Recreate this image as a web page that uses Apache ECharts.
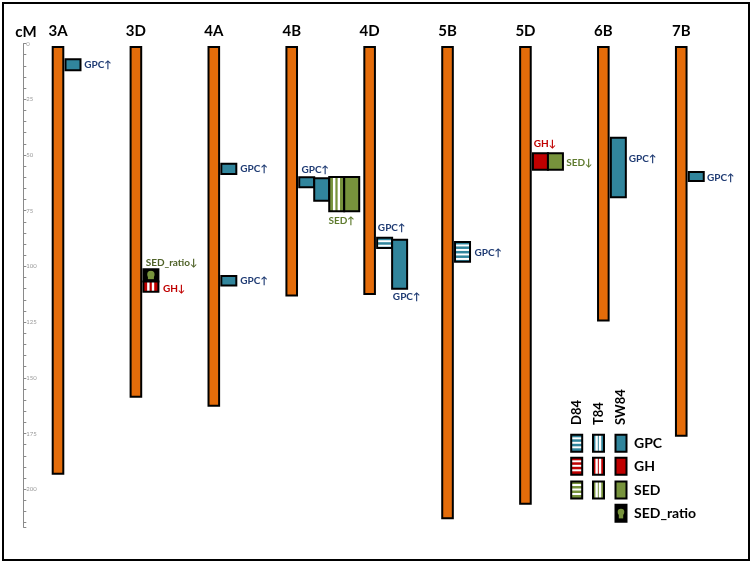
<!DOCTYPE html>
<html>
<head>
<meta charset="utf-8">
<script src="https://cdn.jsdelivr.net/npm/echarts@6/dist/echarts.min.js"></script>
<style>
  html, body { margin: 0; padding: 0; background: #fff; }
  #chart { width: 753px; height: 566px; }
</style>
</head>
<body>
<div id="chart"></div>
<script>
  // chromosomes and their lengths (cM)
  const chromosomes = ['3A', '3D', '4A', '4B', '4D', '5B', '5D', '6B', '7B'];
  const chrStart = [1.5, 1.5, 1.5, 1.5, 1.5, 1.5, 1.5, 1.5, 1.5];
  const chrEnd = [193, 158.5, 162.5, 113, 112.4, 213, 206.5, 124.2, 176];

  // QTL: [chromosome, lane, from cM, to cM, trait, population]
  const qtls = [
    ['3A', 0, 7, 12, 'GPC', 'SW84'],
    ['3D', 0, 101.3, 106.8, 'SED_ratio', 'SW84'],
    ['3D', 0, 106.8, 111.3, 'GH', 'T84'],
    ['4A', 0, 53.9, 58.5, 'GPC', 'SW84'],
    ['4A', 0, 104.3, 108.6, 'GPC', 'SW84'],
    ['4B', 0, 60, 64.5, 'GPC', 'SW84'],
    ['4B', 1, 60.4, 70.5, 'GPC', 'SW84'],
    ['4B', 2, 59.9, 75.2, 'SED', 'T84'],
    ['4B', 3, 59.9, 75.2, 'SED', 'SW84'],
    ['4D', 0, 87.1, 91.7, 'GPC', 'D84'],
    ['4D', 1, 88, 110, 'GPC', 'SW84'],
    ['5B', 0, 89, 97.9, 'GPC', 'D84'],
    ['5D', 0, 49.2, 56.6, 'GH', 'SW84'],
    ['5D', 1, 49.2, 56.6, 'SED', 'SW84'],
    ['6B', 0, 42.2, 69, 'GPC', 'SW84'],
    ['7B', 0, 57.6, 61.7, 'GPC', 'SW84']
  ];

  // QTL labels: [chromosome, lane offset, cM, text, trait]
  const qtlLabels = [
    ['3A', 1.25, 9.5, 'GPC↑', 'GPC'],
    ['3D', 0.15, 98.3, 'SED_ratio↓', 'SED_ratio'],
    ['3D', 1.3, 109.8, 'GH↓', 'GH'],
    ['4A', 1.27, 56.2, 'GPC↑', 'GPC'],
    ['4A', 1.27, 106.5, 'GPC↑', 'GPC'],
    ['4B', 0.15, 56.7, 'GPC↑', 'GPC'],
    ['4B', 1.95, 79.6, 'SED↑', 'SED'],
    ['4D', 0.05, 82.7, 'GPC↑', 'GPC'],
    ['4D', 1.05, 113.7, 'GPC↑', 'GPC'],
    ['5B', 1.3, 94, 'GPC↑', 'GPC'],
    ['5D', 0.05, 45, 'GH↓', 'GH'],
    ['5D', 2.22, 53.3, 'SED↓', 'SED'],
    ['6B', 1.2, 51.8, 'GPC↑', 'GPC'],
    ['7B', 1.22, 60.3, 'GPC↑', 'GPC']
  ];

  const legendPops = ['D84', 'T84', 'SW84'];
  const legendTraits = ['GPC', 'GH', 'SED', 'SED_ratio'];

  const FILL = { GPC: '#31859C', GH: '#C00000', SED: '#77933C', SED_ratio: '#77933C' };
  const TEXT = { GPC: '#1F3B73', GH: '#C00000', SED: '#5E7A2E', SED_ratio: '#4F6228' };
  const FONT = 'Lato, "Open Sans", "DejaVu Sans", sans-serif';
  const LANE = 15;

  // a QTL box with its pattern (D84 = horizontal stripes, T84 = vertical, SW84 = solid)
  function boxShapes(x, y, w, h, trait, pop) {
    const kids = [];
    const bg = trait === 'SED_ratio' ? '#000' : FILL[trait];
    kids.push({ type: 'rect', shape: { x: x, y: y, width: w, height: h }, style: { fill: bg } });
    if (trait === 'SED_ratio') {
      kids.push({ type: 'circle', shape: { cx: x + w * 0.5, cy: y + h * 0.42, r: Math.min(w, h) * 0.3 }, style: { fill: FILL.SED } });
      kids.push({ type: 'rect', shape: { x: x + w * 0.3, y: y + h * 0.55, width: w * 0.4, height: h * 0.25 }, style: { fill: FILL.SED } });
    } else if (pop === 'D84') {
      for (let yy = y + 2.5; yy + 2 <= y + h - 1; yy += 4.5) {
        kids.push({ type: 'rect', shape: { x: x, y: yy, width: w, height: 2 }, style: { fill: '#fff' } });
      }
    } else if (pop === 'T84') {
      [0.33, 0.64].forEach(function (f) {
        kids.push({ type: 'rect', shape: { x: x + w * f - 1.2, y: y, width: 2.4, height: h }, style: { fill: '#fff' } });
      });
    }
    kids.push({ type: 'rect', shape: { x: x, y: y, width: w, height: h }, style: { fill: 'none', stroke: '#000', lineWidth: 2 } });
    return kids;
  }

  // legend drawn with graphic elements
  const colX = [576.7, 598.5, 621];
  const rowY = [443.3, 466.3, 490, 513.3];
  const legendGraphics = [];
  legendPops.forEach(function (p, c) {
    legendGraphics.push({
      type: 'text', x: colX[c], y: 425, rotation: Math.PI / 2,
      style: { text: p, fill: '#000', fontSize: 13, fontWeight: 'bold', fontFamily: FONT, align: 'left', verticalAlign: 'middle' }
    });
  });
  legendTraits.forEach(function (t, r) {
    legendPops.forEach(function (p, c) {
      if (t === 'SED_ratio' && p !== 'SW84') return;
      legendGraphics.push({ type: 'group', children: boxShapes(colX[c] - 5.5, rowY[r] - 8.5, 11, 17, t, p) });
    });
    legendGraphics.push({
      type: 'text', x: 634, y: rowY[r],
      style: { text: t, fill: '#000', fontSize: 14, fontWeight: 'bold', fontFamily: FONT, align: 'left', verticalAlign: 'middle' }
    });
  });

  const myChart = echarts.init(document.getElementById('chart'));
  const option = {
    animation: false,
    grid: { top: 43.6, height: 483.6, left: 23.3, right: 32.8 },
    xAxis: { type: 'value', min: -0.4454, max: 8.5, show: false },
    yAxis: {
      type: 'value', inverse: true, min: 0, max: 217, interval: 5,
      axisLine: { show: true, onZero: false, lineStyle: { color: '#8a8a8a', width: 1 } },
      axisTick: { show: true, inside: true, length: 3, lineStyle: { color: '#8a8a8a' } },
      axisLabel: {
        inside: true, margin: 3, fontSize: 6, color: '#999', fontFamily: FONT,
        formatter: function (v) { return v % 25 === 0 ? String(v) : ''; }
      },
      splitLine: { show: false }
    },
    graphic: [
      { type: 'rect', shape: { x: 3, y: 3, width: 746, height: 557 }, style: { fill: 'none', stroke: '#000', lineWidth: 2 } },
      { type: 'text', x: 26, y: 32, style: { text: 'cM', fill: '#000', fontSize: 15, fontWeight: 'bold', fontFamily: FONT, align: 'center', verticalAlign: 'middle' } }
    ].concat(legendGraphics),
    series: [
      {
        type: 'custom',
        data: chromosomes.map(function (c, i) { return [i, chrStart[i], chrEnd[i]]; }),
        renderItem: function (params, api) {
          const top = api.coord([api.value(0), api.value(1)]);
          const bot = api.coord([api.value(0), api.value(2)]);
          const zero = api.coord([api.value(0), 0]);
          return {
            type: 'group',
            children: [
              { type: 'rect', shape: { x: top[0] - 5.3, y: top[1], width: 10.6, height: bot[1] - top[1] }, style: { fill: '#E46C0A', stroke: '#000', lineWidth: 2 } },
              { type: 'text', x: top[0], y: zero[1] - 12, style: { text: chromosomes[params.dataIndex], fill: '#000', fontSize: 15, fontWeight: 'bold', fontFamily: FONT, align: 'center', verticalAlign: 'middle' } }
            ]
          };
        }
      },
      {
        type: 'custom',
        data: qtls.map(function (q) { return [chromosomes.indexOf(q[0]), q[1], q[2], q[3]]; }),
        renderItem: function (params, api) {
          const q = qtls[params.dataIndex];
          const a = api.coord([api.value(0), api.value(2)]);
          const b = api.coord([api.value(0), api.value(3)]);
          const x = a[0] + 7.5 + api.value(1) * LANE;
          return { type: 'group', children: boxShapes(x, a[1], LANE, b[1] - a[1], q[4], q[5]) };
        }
      },
      {
        type: 'custom',
        data: qtlLabels.map(function (l) { return [chromosomes.indexOf(l[0]), l[1], l[2]]; }),
        renderItem: function (params, api) {
          const l = qtlLabels[params.dataIndex];
          const p = api.coord([api.value(0), api.value(2)]);
          return {
            type: 'text', x: p[0] + 7.5 + api.value(1) * LANE, y: p[1],
            style: { text: l[3], fill: TEXT[l[4]], fontSize: 10, fontWeight: 'bold', fontFamily: FONT, align: 'left', verticalAlign: 'middle' }
          };
        }
      }
    ]
  };
  option && myChart.setOption(option);
</script>
</body>
</html>
